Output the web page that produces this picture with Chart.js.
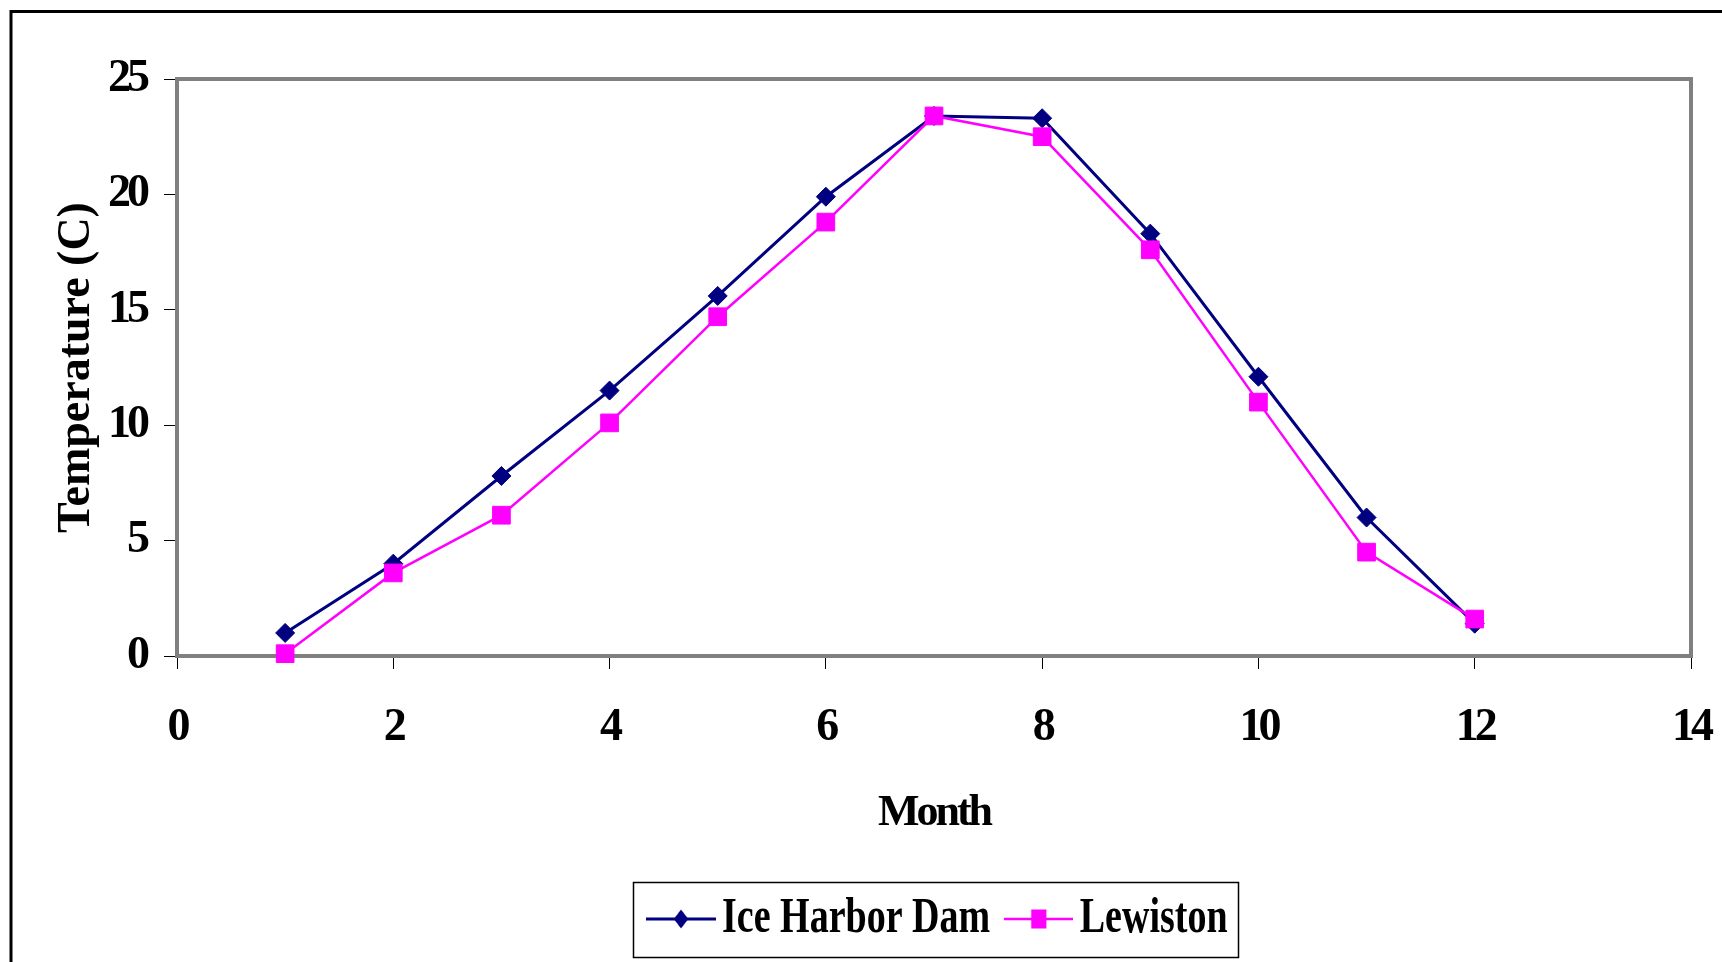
<!DOCTYPE html>
<html>
<head>
<meta charset="utf-8">
<script src="https://cdn.jsdelivr.net/npm/chart.js@4/dist/chart.umd.min.js"></script>
<style>
html, body { margin: 0; padding: 0; background: #ffffff; }
#wrap { width: 1722px; height: 962px; position: relative; }
</style>
</head>
<body>
<div id="wrap"><canvas id="c" width="1722" height="962"></canvas></div>
<script>
// ---- data ----
const months = [1, 2, 3, 4, 5, 6, 7, 8, 9, 10, 11, 12];
const iceHarborDam = [1.0, 4.0, 7.8, 11.5, 15.6, 19.9, 23.4, 23.3, 18.3, 12.1, 6.0, 1.4];
const lewiston = [0.1, 3.6, 6.1, 10.1, 14.7, 18.8, 23.4, 22.5, 17.6, 11.0, 4.5, 1.6];
const seriesNames = ['Ice Harbor Dam', 'Lewiston'];
const xTicks = [0, 2, 4, 6, 8, 10, 12, 14];
const yTicks = [0, 5, 10, 15, 20, 25];
const xTitle = 'Month';
const yTitle = 'Temperature (C)';

// ---- styling / layout ----
const FAMILY = "'Liberation Serif', 'Times New Roman', serif";
const NAVY = '#000080';
const MAGENTA = '#FF00FF';
const PAD_LEFT = 48, PAD_RIGHT = 31, PAD_TOP = 79, PAD_BOTTOM = 0;
const PLOT_LEFT = 177, PLOT_BOTTOM = 656;
const LEGEND_PAD = 35;
const LEGEND_H = 68 + LEGEND_PAD;
const LEGEND_FONT = 50;
const LEGEND_SCALE = 0.76;      // horizontal squeeze of the legend row
const LEGEND_CX = 937;          // centre of the legend row
const LEGEND_BOX_CX = 935;
const LEGEND_BOX_HALF_W = 302.5;
const LEGEND_BOX_H = 75;
const ICON_W = 91;

function legendIcon(color, lineW, marker) {
  const w = ICON_W, h = 24;
  const cv = document.createElement('canvas');
  cv.width = w; cv.height = h;
  const g = cv.getContext('2d');
  g.strokeStyle = color; g.lineWidth = lineW;
  g.beginPath(); g.moveTo(0, 12); g.lineTo(w, 12); g.stroke();
  g.fillStyle = color;
  const cx = w / 2;
  if (marker === 'diamond') {
    g.beginPath(); g.moveTo(cx, 2.5); g.lineTo(cx + 9.5, 12); g.lineTo(cx, 21.5); g.lineTo(cx - 9.5, 12); g.closePath(); g.fill();
  } else {
    g.fillRect(cx - 10, 2.5, 20, 19);
  }
  return cv;
}
const icons = [legendIcon(NAVY, 3, 'diamond'), legendIcon(MAGENTA, 2.5, 'square')];

function wrapSpacing(obj, name, sp) {
  const orig = obj[name];
  obj[name] = function (...args) {
    const c = this.ctx;
    const prev = c.letterSpacing;
    c.letterSpacing = sp;
    try { return orig.apply(this, args); }
    finally { c.letterSpacing = prev; }
  };
}

const textPlugin = {
  id: 'textStyle',
  beforeLayout(chart) {
    const lg = chart.legend;
    if (lg && !lg.__wrapped) {
      const origFit = lg.fit;
      lg.fit = function (...a) { const r = origFit.apply(this, a); this.height = LEGEND_H; return r; };
      const origDraw = lg.draw;
      lg.draw = function (...a) {
        const c = this.ctx;
        const hb = this.legendHitBoxes;
        c.save();
        if (hb && hb.length) {
          const l = hb[0].left - (ICON_W / 2 - 29);
          const last = hb[hb.length - 1];
          const r = last.left + last.width;
          const mid = (l + r) / 2;
          c.translate(LEGEND_CX, 0);
          c.scale(LEGEND_SCALE, 1);
          c.translate(-mid, 0);
        }
        try { return origDraw.apply(this, a); }
        finally { c.restore(); }
      };
      lg.__wrapped = true;
    }
    const sx = chart.scales.x, sy = chart.scales.y;
    if (sx && !sx.__wrapped) {
      wrapSpacing(sx, 'drawLabels', '-4px');
      wrapSpacing(sx, 'drawTitle', '-3px');
      sx.__wrapped = true;
    }
    if (sy && !sy.__wrapped) {
      wrapSpacing(sy, 'drawLabels', '-4px');
      sy.__wrapped = true;
    }
  }
};

const framePlugin = {
  id: 'frames',
  beforeDraw(chart) {
    const ctx = chart.ctx;
    ctx.save();
    ctx.fillStyle = '#ffffff';
    ctx.fillRect(0, 0, chart.width, chart.height);
    ctx.strokeStyle = '#000000';
    ctx.lineWidth = 3;
    ctx.beginPath();
    ctx.moveTo(11, chart.height + 5);
    ctx.lineTo(11, 11.5);
    ctx.lineTo(chart.width + 5, 11.5);
    ctx.stroke();
    ctx.restore();
  },
  beforeDatasetsDraw(chart) {
    const a = chart.chartArea;
    const ctx = chart.ctx;
    ctx.save();
    ctx.strokeStyle = '#808080';
    ctx.lineWidth = 4;
    ctx.strokeRect(a.left, a.top, a.right - a.left, a.bottom - a.top);
    ctx.restore();
  },
  afterDraw(chart) {
    const hb = chart.legend && chart.legend.legendHitBoxes;
    if (!hb || !hb.length) return;
    const first = hb[0];
    const cy = first.top + first.height / 2;
    const ctx = chart.ctx;
    ctx.save();
    ctx.strokeStyle = '#000000';
    ctx.lineWidth = 1.5;
    ctx.strokeRect(Math.round(LEGEND_BOX_CX - LEGEND_BOX_HALF_W) + 0.5, Math.round(cy - LEGEND_BOX_H / 2) + 0.5,
                   Math.round(2 * LEGEND_BOX_HALF_W), LEGEND_BOX_H);
    ctx.restore();
  }
};

const ctx = document.getElementById('c').getContext('2d');
new Chart(ctx, {
  type: 'line',
  data: {
    datasets: [
      {
        label: seriesNames[0],
        data: months.map((m, i) => ({ x: m, y: iceHarborDam[i] })),
        borderColor: NAVY,
        backgroundColor: NAVY,
        borderWidth: 3,
        pointStyle: 'rectRot',
        pointRadius: 9.5,
        pointBorderWidth: 1,
        pointBorderColor: NAVY,
        pointBackgroundColor: NAVY,
        tension: 0,
        clip: false,
        order: 1
      },
      {
        label: seriesNames[1],
        data: months.map((m, i) => ({ x: m, y: lewiston[i] })),
        borderColor: MAGENTA,
        backgroundColor: MAGENTA,
        borderWidth: 2.5,
        pointStyle: 'rect',
        pointRadius: 12.5,
        pointBorderWidth: 1,
        pointBorderColor: MAGENTA,
        pointBackgroundColor: MAGENTA,
        tension: 0,
        clip: false,
        order: 0
      }
    ]
  },
  options: {
    responsive: false,
    animation: false,
    events: [],
    devicePixelRatio: 1,
    layout: { padding: { left: PAD_LEFT, right: PAD_RIGHT, top: PAD_TOP, bottom: PAD_BOTTOM } },
    scales: {
      x: {
        type: 'linear',
        min: xTicks[0],
        max: xTicks[xTicks.length - 1],
        afterBuildTicks: s => { s.ticks = xTicks.map(v => ({ value: v })); },
        afterFit: s => {
          s.height = 962 - PAD_BOTTOM - LEGEND_H - PLOT_BOTTOM;
          s.paddingRight = 0;
          s.paddingLeft = 0;
        },
        grid: { drawOnChartArea: false, drawTicks: true, tickLength: 13, tickColor: '#000000', lineWidth: 1 },
        border: { display: false },
        ticks: {
          color: '#000000',
          padding: 32,
          maxRotation: 0,
          autoSkip: false,
          font: { family: FAMILY, size: 46, weight: 'bold', lineHeight: 1.2 }
        },
        title: {
          display: true,
          text: xTitle,
          color: '#000000',
          padding: { top: 0, bottom: 19 },
          font: { family: FAMILY, size: 44, weight: 'bold', lineHeight: 1.2 }
        }
      },
      y: {
        type: 'linear',
        min: yTicks[0],
        max: yTicks[yTicks.length - 1],
        afterBuildTicks: s => { s.ticks = yTicks.map(v => ({ value: v })); },
        afterFit: s => { s.width = PLOT_LEFT - PAD_LEFT; },
        grid: { drawOnChartArea: false, drawTicks: true, tickLength: 13, tickColor: '#000000', lineWidth: 1 },
        border: { display: false },
        ticks: {
          color: '#000000',
          padding: 18,
          font: { family: FAMILY, size: 46, weight: 'bold', lineHeight: 1.2 }
        },
        title: {
          display: true,
          text: yTitle,
          color: '#000000',
          padding: { top: 6, bottom: 0 },
          font: { family: FAMILY, size: 46, weight: 'bold', lineHeight: 1 }
        }
      }
    },
    plugins: {
      tooltip: { enabled: false },
      legend: {
        display: true,
        position: 'bottom',
        labels: {
          usePointStyle: true,
          pointStyleWidth: 58,
          padding: LEGEND_PAD,
          color: '#000000',
          font: { family: FAMILY, size: LEGEND_FONT, weight: 'bold', lineHeight: 1.2 },
          sort: (a, b) => a.datasetIndex - b.datasetIndex,
          generateLabels: (chart) => {
            const items = Chart.defaults.plugins.legend.labels.generateLabels(chart);
            items.forEach(it => { it.pointStyle = icons[it.datasetIndex]; });
            return items;
          }
        }
      }
    }
  },
  plugins: [textPlugin, framePlugin]
});
</script>
</body>
</html>
